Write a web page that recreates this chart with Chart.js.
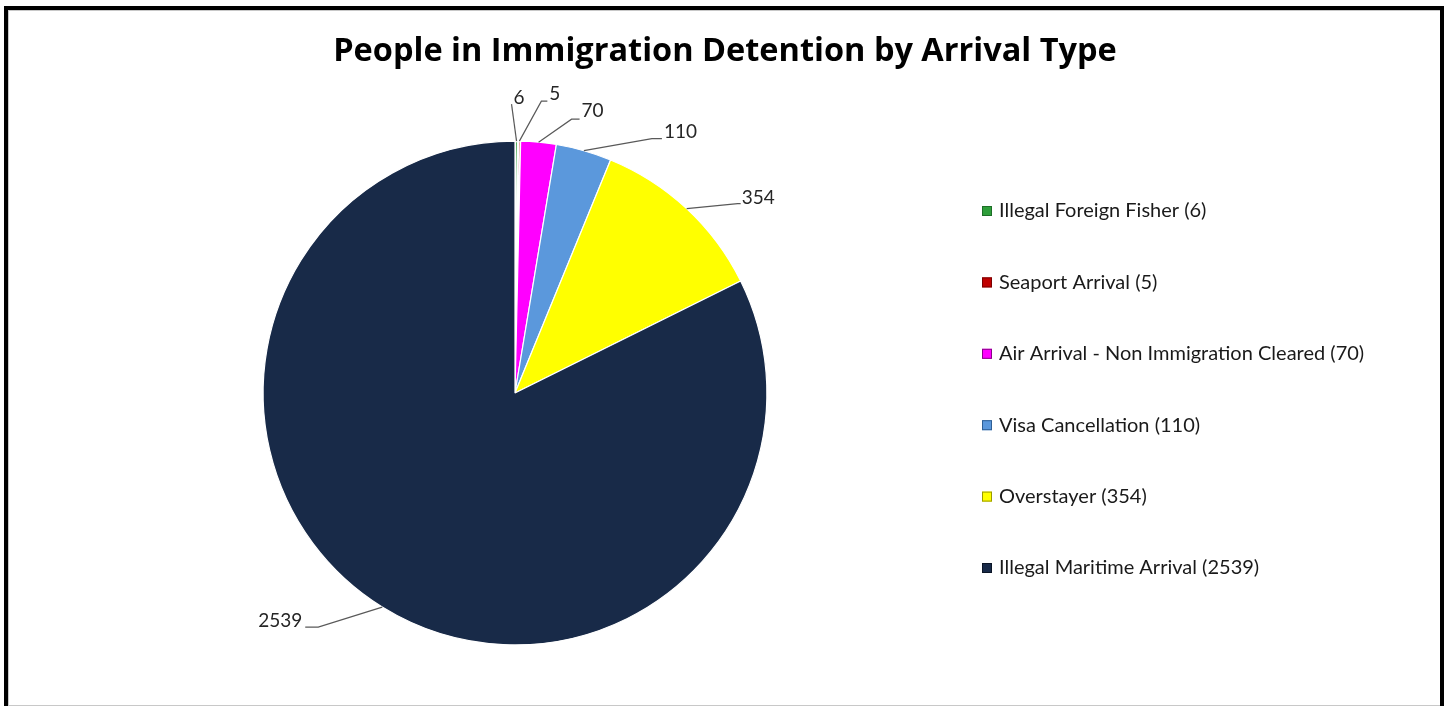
<!DOCTYPE html>
<html>
<head>
<meta charset="utf-8">
<script src="https://cdn.jsdelivr.net/npm/chart.js@4"></script>
<style>
  html, body { margin:0; padding:0; background:#fff; width:1450px; height:706px; overflow:hidden; }
  #wrap { position:absolute; left:0; top:0; width:1450px; height:706px; }
  #frame { position:absolute; left:4px; top:6px; width:1432px; height:720px; border:4px solid #000; pointer-events:none; box-sizing:content-box; }
  #inner { position:absolute; left:8px; top:10px; width:1431px; height:694px; border:1px solid #c8c8c8; pointer-events:none; }
</style>
</head>
<body>
<div id="wrap"><canvas id="c" width="1450" height="706"></canvas></div>
<div id="inner"></div>
<div id="frame"></div>
<script>
const titleText = 'People in Immigration Detention by Arrival Type';
const categories = ['Illegal Foreign Fisher', 'Seaport Arrival', 'Air Arrival - Non Immigration Cleared', 'Visa Cancellation', 'Overstayer', 'Illegal Maritime Arrival'];
const values = [6, 5, 70, 110, 354, 2539];
const sliceColors = ['#2e9e3a', '#c00000', '#ff00ff', '#5b98dc', '#ffff00', '#182a48'];
const legendBorderColors = ['#1d6e27', '#7a0000', '#8a008a', '#2f5f95', '#9a9a00', '#0b1526'];

// leader-line layout for the data labels (elbow offset from slice edge, horizontal tail, text side)
const leaderLayout = [
  { dx: -5, dy: -37, tail: 0, side: 'right', tx: 2, ty: -6 },
  { dx: 22, dy: -40, tail: 6, side: 'right', tx: 2, ty: -7 },
  { dx: 33, dy: -23, tail: 8, side: 'right', tx: 2, ty: -8 },
  { dx: 68, dy: -12, tail: 10, side: 'right', tx: 2, ty: -7 },
  { dx: 51, dy: -5, tail: 3, side: 'right', tx: 1, ty: -6 },
  { dx: -64, dy: 20, tail: -13, side: 'left', tx: -3, ty: -6 }
];

const leaderLabels = {
  id: 'leaderLabels',
  afterDatasetsDraw(chart) {
    const ctx = chart.ctx;
    const meta = chart.getDatasetMeta(0);
    ctx.save();
    ctx.font = '19px Lato';
    ctx.fillStyle = '#262626';
    ctx.strokeStyle = '#595959';
    ctx.lineWidth = 1.2;
    meta.data.forEach((arc, i) => {
      const p = arc.getProps(['x','y','startAngle','endAngle','outerRadius'], true);
      const mid = (p.startAngle + p.endAngle) / 2;
      const ex = p.x + Math.cos(mid) * p.outerRadius;
      const ey = p.y + Math.sin(mid) * p.outerRadius;
      const L = leaderLayout[i];
      const bx = ex + L.dx, by = ey + L.dy;
      const tx = bx + L.tail;
      ctx.beginPath();
      ctx.moveTo(ex, ey);
      ctx.lineTo(bx, by);
      ctx.lineTo(tx, by);
      ctx.stroke();
      ctx.textAlign = L.side === 'left' ? 'right' : 'left';
      ctx.textBaseline = 'middle';
      ctx.fillText(String(values[i]), tx + L.tx, by + L.ty);
    });
    ctx.restore();
  }
};

// Title centred on the whole canvas, legend column on the right
const titleAndLegend = {
  id: 'titleAndLegend',
  afterDraw(chart) {
    const ctx = chart.ctx;
    ctx.save();
    ctx.fillStyle = '#000';
    ctx.font = 'bold 32.5px "Open Sans"';
    ctx.textAlign = 'center';
    ctx.textBaseline = 'alphabetic';
    ctx.fillText(titleText, chart.width / 2, 61);

    const lx = 982, ly0 = 211, step = 71.4, box = 10;
    ctx.font = '20px Lato';
    ctx.textAlign = 'left';
    ctx.textBaseline = 'middle';
    categories.forEach((c, i) => {
      const y = ly0 + i * step;
      ctx.fillStyle = sliceColors[i];
      ctx.fillRect(lx, y - box / 2, box, box);
      ctx.strokeStyle = legendBorderColors[i];
      ctx.lineWidth = 1;
      ctx.strokeRect(lx + 0.5, y - box / 2 + 0.5, box - 1, box - 1);
      ctx.fillStyle = '#1a1a1a';
      ctx.fillText(c + ' (' + values[i] + ')', lx + box + 7, y);
    });
    ctx.restore();
  }
};

new Chart(document.getElementById('c'), {
  type: 'pie',
  data: {
    labels: categories,
    datasets: [{
      data: values,
      backgroundColor: sliceColors,
      borderColor: ['#ffffff', '#ffffff', '#ffffff', '#ffffff', '#ffffff', '#ffffff'],
      borderWidth: [2.2, 2.2, 1.2, 1.2, 1.2, 1.2],
      hoverOffset: 0
    }]
  },
  options: {
    responsive: false,
    animation: false,
    devicePixelRatio: 1,
    layout: { padding: { left: 60, right: 480, top: 140, bottom: 60 } },
    plugins: {
      title: { display: false },
      legend: { display: false },
      tooltip: { enabled: false }
    }
  },
  plugins: [leaderLabels, titleAndLegend]
});
</script>
</body>
</html>
